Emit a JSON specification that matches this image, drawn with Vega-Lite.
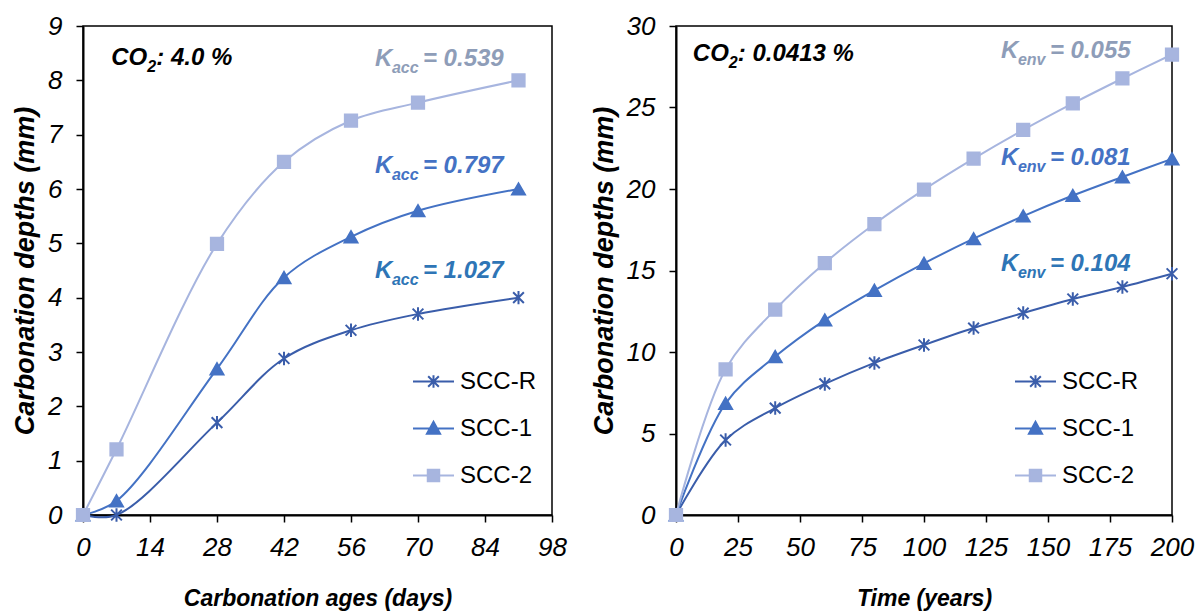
{
  "$schema": "https://vega.github.io/schema/vega-lite/v6.json",
  "background": "white",
  "padding": {"left": 10, "top": 12, "right": 5, "bottom": 2},
  "bounds": "flush",
  "spacing": 124,
  "config": {
    "font": "Liberation Sans",
    "view": {"stroke": "black", "strokeWidth": 1.5},
    "text": {"font": "Liberation Sans"},
    "axis": {
      "grid": false, "domainColor": "black", "domainWidth": 2, "tickColor": "black", "tickWidth": 1.5, "tickSize": 7,
      "labelFont": "Liberation Sans", "labelFontStyle": "italic", "labelFontSize": 26, "labelColor": "black",
      "titleFont": "Liberation Sans", "titleFontStyle": "italic", "titleFontWeight": "bold", "titleFontSize": 23, "titleColor": "black"
    },
    "axisY": {"labelPadding": 14, "titlePadding": 8, "titleFontSize": 27},
    "axisX": {"labelPadding": 12, "titlePadding": 27, "labelFlush": false},
    "legend": {
      "orient": "none", "title": null, "padding": 0, "rowPadding": 13, "symbolSize": 1681, "labelOffset": 5,
      "labelFont": "Liberation Sans", "labelFontSize": 24, "labelColor": "black"
    }
  },
  "resolve": {"legend": {"color": "independent"}},
  "datasets": {
    "acc": [
      {"days": 0, "depth": 0, "series": "SCC-R"}, {"days": 7, "depth": 0, "series": "SCC-R"}, {"days": 28, "depth": 1.7, "series": "SCC-R"},
      {"days": 42, "depth": 2.88, "series": "SCC-R"}, {"days": 56, "depth": 3.4, "series": "SCC-R"}, {"days": 70, "depth": 3.7, "series": "SCC-R"},
      {"days": 91, "depth": 4.0, "series": "SCC-R"},
      {"days": 0, "depth": 0, "series": "SCC-1"}, {"days": 7, "depth": 0.26, "series": "SCC-1"}, {"days": 28, "depth": 2.69, "series": "SCC-1"},
      {"days": 42, "depth": 4.37, "series": "SCC-1"}, {"days": 56, "depth": 5.12, "series": "SCC-1"}, {"days": 70, "depth": 5.6, "series": "SCC-1"},
      {"days": 91, "depth": 6.0, "series": "SCC-1"},
      {"days": 0, "depth": 0, "series": "SCC-2"}, {"days": 7, "depth": 1.21, "series": "SCC-2"}, {"days": 28, "depth": 4.99, "series": "SCC-2"},
      {"days": 42, "depth": 6.5, "series": "SCC-2"}, {"days": 56, "depth": 7.26, "series": "SCC-2"}, {"days": 70, "depth": 7.59, "series": "SCC-2"},
      {"days": 91, "depth": 8.0, "series": "SCC-2"}
    ],
    "env": [
      {"years": 0, "depth": 0, "series": "SCC-R"}, {"years": 20, "depth": 4.6, "series": "SCC-R"}, {"years": 40, "depth": 6.56, "series": "SCC-R"},
      {"years": 60, "depth": 8.04, "series": "SCC-R"}, {"years": 80, "depth": 9.33, "series": "SCC-R"}, {"years": 100, "depth": 10.43, "series": "SCC-R"},
      {"years": 120, "depth": 11.47, "series": "SCC-R"}, {"years": 140, "depth": 12.39, "series": "SCC-R"}, {"years": 160, "depth": 13.25, "series": "SCC-R"},
      {"years": 180, "depth": 13.99, "series": "SCC-R"}, {"years": 200, "depth": 14.8, "series": "SCC-R"},
      {"years": 0, "depth": 0, "series": "SCC-1"}, {"years": 20, "depth": 6.85, "series": "SCC-1"}, {"years": 40, "depth": 9.72, "series": "SCC-1"},
      {"years": 60, "depth": 11.96, "series": "SCC-1"}, {"years": 80, "depth": 13.78, "series": "SCC-1"}, {"years": 100, "depth": 15.44, "series": "SCC-1"},
      {"years": 120, "depth": 16.95, "series": "SCC-1"}, {"years": 140, "depth": 18.34, "series": "SCC-1"}, {"years": 160, "depth": 19.6, "series": "SCC-1"},
      {"years": 180, "depth": 20.74, "series": "SCC-1"}, {"years": 200, "depth": 21.85, "series": "SCC-1"},
      {"years": 0, "depth": 0, "series": "SCC-2"}, {"years": 20, "depth": 8.94, "series": "SCC-2"}, {"years": 40, "depth": 12.6, "series": "SCC-2"},
      {"years": 60, "depth": 15.46, "series": "SCC-2"}, {"years": 80, "depth": 17.85, "series": "SCC-2"}, {"years": 100, "depth": 19.96, "series": "SCC-2"},
      {"years": 120, "depth": 21.86, "series": "SCC-2"}, {"years": 140, "depth": 23.62, "series": "SCC-2"}, {"years": 160, "depth": 25.25, "series": "SCC-2"},
      {"years": 180, "depth": 26.78, "series": "SCC-2"}, {"years": 200, "depth": 28.25, "series": "SCC-2"}
    ],
    "kAcc": [
      {"x": 61.0, "y": 8.39, "series": "SCC-2", "main": "K", "sub": "acc", "rest": "= 0.539"},
      {"x": 61.0, "y": 6.42, "series": "SCC-1", "main": "K", "sub": "acc", "rest": "= 0.797"},
      {"x": 61.0, "y": 4.49, "series": "SCC-R", "main": "K", "sub": "acc", "rest": "= 1.027"}
    ],
    "kEnv": [
      {"x": 131, "y": 28.45, "series": "SCC-2", "main": "K", "sub": "env", "rest": "= 0.055"},
      {"x": 131, "y": 21.9, "series": "SCC-1", "main": "K", "sub": "env", "rest": "= 0.081"},
      {"x": 131, "y": 15.4, "series": "SCC-R", "main": "K", "sub": "env", "rest": "= 0.104"}
    ],
    "co2Acc": [{"x": 5.9, "y": 8.41, "main": "CO", "sub": "2", "rest": ": 4.0 %"}],
    "co2Env": [{"x": 6.8, "y": 28.3, "main": "CO", "sub": "2", "rest": ": 0.0413 %"}]
  },
  "hconcat": [
    {
      "width": 469, "height": 489,
      "encoding": {
        "x": {"field": "days", "type": "quantitative", "title": "Carbonation ages (days)",
              "scale": {"domain": [0, 98], "nice": false}, "axis": {"values": [0, 14, 28, 42, 56, 70, 84, 98]}},
        "y": {"field": "depth", "type": "quantitative", "title": "Carbonation depths (mm)",
              "scale": {"domain": [0, 9], "nice": false}, "axis": {"values": [0, 1, 2, 3, 4, 5, 6, 7, 8, 9]}}
      },
      "layer": [
        {
          "data": {"name": "acc"},
          "mark": {"type": "line", "interpolate": "catmull-rom", "strokeWidth": 2},
          "encoding": {
            "color": {"field": "series", "type": "nominal", "sort": null,
                      "scale": {"domain": ["SCC-R", "SCC-1", "SCC-2"], "range": ["#3A5DAA", "#4472C4", "#A7B5DF"]},
                      "legend": {"legendX": 329, "legendY": 334, "symbolSize": 1681,
                        "encoding": {"symbols": {
                          "shape": {"value": {"expr": "datum.value === 'SCC-R' ? 'M-1,0L1,0M0,-0.3L0,0.3M-0.26,-0.26L0.26,0.26M-0.26,0.26L0.26,-0.26' : datum.value === 'SCC-1' ? 'M-1,0L1,0M-0.32,0.26L0,-0.32L0.32,0.26Z' : 'M-1,0L1,0M-0.28,-0.28L0.28,-0.28L0.28,0.28L-0.28,0.28Z'"}},
                          "fill": {"value": {"expr": "datum.value === 'SCC-R' ? '#3A5DAA' : datum.value === 'SCC-1' ? '#4472C4' : '#A7B5DF'"}},
                          "stroke": {"value": {"expr": "datum.value === 'SCC-R' ? '#3A5DAA' : datum.value === 'SCC-1' ? '#4472C4' : '#A7B5DF'"}},
                          "strokeWidth": {"value": 2}, "opacity": {"value": 1}
                        }}}}
          }
        },
        {
          "data": {"name": "acc"},
          "mark": {"type": "point", "filled": true, "opacity": 1, "strokeWidth": 2},
          "encoding": {
            "color": {"field": "series", "type": "nominal", "sort": null, "scale": {"domain": ["SCC-R", "SCC-1", "SCC-2"], "range": ["#3A5DAA", "#4472C4", "#A7B5DF"]}},
            "stroke": {"field": "series", "type": "nominal", "scale": {"domain": ["SCC-R", "SCC-1", "SCC-2"], "range": ["#3A5DAA", "#4472C4", "#A7B5DF"]}, "legend": null},
            "shape": {"field": "series", "type": "nominal", "sort": null,
                      "scale": {"domain": ["SCC-R", "SCC-1", "SCC-2"], "range": ["M0,-1L0,1M-0.8,-0.8L0.8,0.8M-0.8,0.8L0.8,-0.8", "triangle-up", "square"]},
                      "legend": null},
            "size": {"field": "series", "type": "nominal", "scale": {"domain": ["SCC-R", "SCC-1", "SCC-2"], "range": [180, 150, 140]}, "legend": null}
          }
        },
        {
          "data": {"name": "kAcc"},
          "mark": {"type": "text", "align": "left", "baseline": "middle", "fontSize": 24, "fontWeight": "bold", "fontStyle": "italic"},
          "encoding": {"x": {"field": "x", "type": "quantitative"}, "y": {"field": "y", "type": "quantitative"}, "text": {"field": "main"},
            "fill": {"field": "series", "type": "nominal", "scale": {"domain": ["SCC-R", "SCC-1", "SCC-2"], "range": ["#2E75B6", "#4472C4", "#8E9DB8"]}, "legend": null}}
        },
        {
          "data": {"name": "kAcc"},
          "mark": {"type": "text", "align": "left", "baseline": "middle", "fontSize": 16, "fontWeight": "bold", "fontStyle": "italic", "dx": 17, "dy": 9},
          "encoding": {"x": {"field": "x", "type": "quantitative"}, "y": {"field": "y", "type": "quantitative"}, "text": {"field": "sub"},
            "fill": {"field": "series", "type": "nominal", "scale": {"domain": ["SCC-R", "SCC-1", "SCC-2"], "range": ["#2E75B6", "#4472C4", "#8E9DB8"]}, "legend": null}}
        },
        {
          "data": {"name": "kAcc"},
          "mark": {"type": "text", "align": "left", "baseline": "middle", "fontSize": 24, "fontWeight": "bold", "fontStyle": "italic", "dx": 48},
          "encoding": {"x": {"field": "x", "type": "quantitative"}, "y": {"field": "y", "type": "quantitative"}, "text": {"field": "rest"},
            "fill": {"field": "series", "type": "nominal", "scale": {"domain": ["SCC-R", "SCC-1", "SCC-2"], "range": ["#2E75B6", "#4472C4", "#8E9DB8"]}, "legend": null}}
        },
        {
          "data": {"name": "co2Acc"},
          "mark": {"type": "text", "align": "left", "baseline": "middle", "fontSize": 24, "fontWeight": "bold", "fontStyle": "italic", "color": "black"},
          "encoding": {"x": {"field": "x", "type": "quantitative"}, "y": {"field": "y", "type": "quantitative"}, "text": {"field": "main"}}
        },
        {
          "data": {"name": "co2Acc"},
          "mark": {"type": "text", "align": "left", "baseline": "middle", "fontSize": 16, "fontWeight": "bold", "fontStyle": "italic", "color": "black", "dx": 36, "dy": 9},
          "encoding": {"x": {"field": "x", "type": "quantitative"}, "y": {"field": "y", "type": "quantitative"}, "text": {"field": "sub"}}
        },
        {
          "data": {"name": "co2Acc"},
          "mark": {"type": "text", "align": "left", "baseline": "middle", "fontSize": 24, "fontWeight": "bold", "fontStyle": "italic", "color": "black", "dx": 45},
          "encoding": {"x": {"field": "x", "type": "quantitative"}, "y": {"field": "y", "type": "quantitative"}, "text": {"field": "rest"}}
        }
      ]
    },
    {
      "width": 496, "height": 489,
      "encoding": {
        "x": {"field": "years", "type": "quantitative", "title": "Time (years)",
              "scale": {"domain": [0, 200], "nice": false}, "axis": {"values": [0, 25, 50, 75, 100, 125, 150, 175, 200]}},
        "y": {"field": "depth", "type": "quantitative", "title": "Carbonation depths (mm)",
              "scale": {"domain": [0, 30], "nice": false}, "axis": {"values": [0, 5, 10, 15, 20, 25, 30]}}
      },
      "layer": [
        {
          "data": {"name": "env"},
          "mark": {"type": "line", "interpolate": "catmull-rom", "strokeWidth": 2},
          "encoding": {
            "color": {"field": "series", "type": "nominal", "sort": null,
                      "scale": {"domain": ["SCC-R", "SCC-1", "SCC-2"], "range": ["#3A5DAA", "#4472C4", "#A7B5DF"]},
                      "legend": {"legendX": 338, "legendY": 334, "symbolSize": 1681,
                        "encoding": {"symbols": {
                          "shape": {"value": {"expr": "datum.value === 'SCC-R' ? 'M-1,0L1,0M0,-0.3L0,0.3M-0.26,-0.26L0.26,0.26M-0.26,0.26L0.26,-0.26' : datum.value === 'SCC-1' ? 'M-1,0L1,0M-0.32,0.26L0,-0.32L0.32,0.26Z' : 'M-1,0L1,0M-0.28,-0.28L0.28,-0.28L0.28,0.28L-0.28,0.28Z'"}},
                          "fill": {"value": {"expr": "datum.value === 'SCC-R' ? '#3A5DAA' : datum.value === 'SCC-1' ? '#4472C4' : '#A7B5DF'"}},
                          "stroke": {"value": {"expr": "datum.value === 'SCC-R' ? '#3A5DAA' : datum.value === 'SCC-1' ? '#4472C4' : '#A7B5DF'"}},
                          "strokeWidth": {"value": 2}, "opacity": {"value": 1}
                        }}}}
          }
        },
        {
          "data": {"name": "env"},
          "mark": {"type": "point", "filled": true, "opacity": 1, "strokeWidth": 2},
          "encoding": {
            "color": {"field": "series", "type": "nominal", "sort": null, "scale": {"domain": ["SCC-R", "SCC-1", "SCC-2"], "range": ["#3A5DAA", "#4472C4", "#A7B5DF"]}},
            "stroke": {"field": "series", "type": "nominal", "scale": {"domain": ["SCC-R", "SCC-1", "SCC-2"], "range": ["#3A5DAA", "#4472C4", "#A7B5DF"]}, "legend": null},
            "shape": {"field": "series", "type": "nominal", "sort": null,
                      "scale": {"domain": ["SCC-R", "SCC-1", "SCC-2"], "range": ["M0,-1L0,1M-0.8,-0.8L0.8,0.8M-0.8,0.8L0.8,-0.8", "triangle-up", "square"]},
                      "legend": null},
            "size": {"field": "series", "type": "nominal", "scale": {"domain": ["SCC-R", "SCC-1", "SCC-2"], "range": [180, 150, 140]}, "legend": null}
          }
        },
        {
          "data": {"name": "kEnv"},
          "mark": {"type": "text", "align": "left", "baseline": "middle", "fontSize": 24, "fontWeight": "bold", "fontStyle": "italic"},
          "encoding": {"x": {"field": "x", "type": "quantitative"}, "y": {"field": "y", "type": "quantitative"}, "text": {"field": "main"},
            "fill": {"field": "series", "type": "nominal", "scale": {"domain": ["SCC-R", "SCC-1", "SCC-2"], "range": ["#2E75B6", "#4472C4", "#8E9DB8"]}, "legend": null}}
        },
        {
          "data": {"name": "kEnv"},
          "mark": {"type": "text", "align": "left", "baseline": "middle", "fontSize": 16, "fontWeight": "bold", "fontStyle": "italic", "dx": 17, "dy": 9},
          "encoding": {"x": {"field": "x", "type": "quantitative"}, "y": {"field": "y", "type": "quantitative"}, "text": {"field": "sub"},
            "fill": {"field": "series", "type": "nominal", "scale": {"domain": ["SCC-R", "SCC-1", "SCC-2"], "range": ["#2E75B6", "#4472C4", "#8E9DB8"]}, "legend": null}}
        },
        {
          "data": {"name": "kEnv"},
          "mark": {"type": "text", "align": "left", "baseline": "middle", "fontSize": 24, "fontWeight": "bold", "fontStyle": "italic", "dx": 49},
          "encoding": {"x": {"field": "x", "type": "quantitative"}, "y": {"field": "y", "type": "quantitative"}, "text": {"field": "rest"},
            "fill": {"field": "series", "type": "nominal", "scale": {"domain": ["SCC-R", "SCC-1", "SCC-2"], "range": ["#2E75B6", "#4472C4", "#8E9DB8"]}, "legend": null}}
        },
        {
          "data": {"name": "co2Env"},
          "mark": {"type": "text", "align": "left", "baseline": "middle", "fontSize": 24, "fontWeight": "bold", "fontStyle": "italic", "color": "black"},
          "encoding": {"x": {"field": "x", "type": "quantitative"}, "y": {"field": "y", "type": "quantitative"}, "text": {"field": "main"}}
        },
        {
          "data": {"name": "co2Env"},
          "mark": {"type": "text", "align": "left", "baseline": "middle", "fontSize": 16, "fontWeight": "bold", "fontStyle": "italic", "color": "black", "dx": 36, "dy": 9},
          "encoding": {"x": {"field": "x", "type": "quantitative"}, "y": {"field": "y", "type": "quantitative"}, "text": {"field": "sub"}}
        },
        {
          "data": {"name": "co2Env"},
          "mark": {"type": "text", "align": "left", "baseline": "middle", "fontSize": 24, "fontWeight": "bold", "fontStyle": "italic", "color": "black", "dx": 45},
          "encoding": {"x": {"field": "x", "type": "quantitative"}, "y": {"field": "y", "type": "quantitative"}, "text": {"field": "rest"}}
        }
      ]
    }
  ]
}
